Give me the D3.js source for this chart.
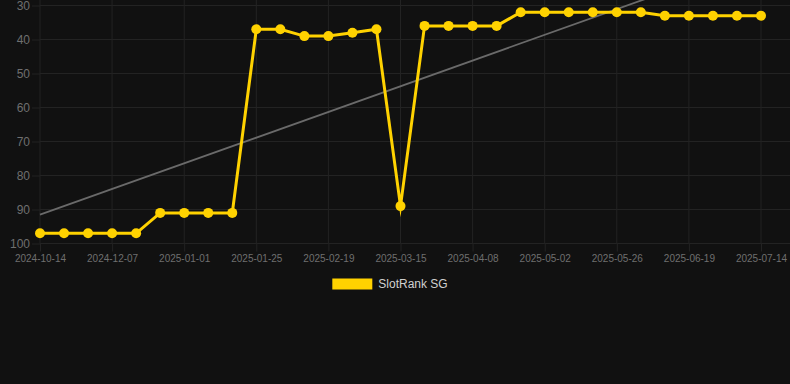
<!DOCTYPE html>
<html>
<head>
<meta charset="utf-8">
<script src="https://cdn.jsdelivr.net/npm/d3@7"></script>
<style>
  html, body { margin: 0; padding: 0; background: #111111; }
  svg { display: block; }
  text { font-family: Arial, "Liberation Sans", Helvetica, sans-serif; }
</style>
</head>
<body>
<svg id="chart" width="790" height="384"></svg>
<script>
const dates = [
  "2024-10-14","2024-10-31","2024-11-19","2024-12-07","2024-12-15","2024-12-23",
  "2025-01-01","2025-01-09","2025-01-17","2025-01-25","2025-02-02","2025-02-10",
  "2025-02-19","2025-02-27","2025-03-07","2025-03-15","2025-03-23","2025-03-31",
  "2025-04-08","2025-04-16","2025-04-24","2025-05-02","2025-05-10","2025-05-18",
  "2025-05-26","2025-06-03","2025-06-11","2025-06-19","2025-06-27","2025-07-05",
  "2025-07-14"
];
const ranks = [
  97, 97, 97, 97, 97, 91, 91, 91, 91, 37, 37, 39, 39, 38, 37, 89,
  36, 36, 36, 36, 32, 32, 32, 32, 32, 32, 33, 33, 33, 33, 33
];
const yTicks = [30, 40, 50, 60, 70, 80, 90, 100];
const xTickLabels = ["2024-10-14","2024-12-07","2025-01-01","2025-01-25","2025-02-19",
  "2025-03-15","2025-04-08","2025-05-02","2025-05-26","2025-06-19","2025-07-14"];
const seriesName = "SlotRank SG";

(function () {
const W = 790, H = 384;
const padL = 40, lastPtX = 761, padR = 790, padT = 5.5, padB = 243.5;
const gridColor = "#232323";
const tickColor = "#6f6f6f";
const gold = "#ffd200";

const svg = d3.select("#chart");
svg.append("rect").attr("width", W).attr("height", H).attr("fill", "#111111");

const x = d3.scalePoint().domain(dates).range([padL, lastPtX]);
const y = d3.scaleLinear().domain([30, 100]).range([padT, padB]);

// grid
svg.append("g").selectAll("line").data(yTicks).join("line")
  .attr("x1", padL).attr("x2", padR)
  .attr("y1", d => y(d)).attr("y2", d => y(d))
  .attr("stroke", gridColor).attr("stroke-width", 1);
svg.append("g").selectAll("line").data(xTickLabels).join("line")
  .attr("x1", d => x(d)).attr("x2", d => x(d))
  .attr("y1", 0).attr("y2", padB)
  .attr("stroke", gridColor).attr("stroke-width", 1);

// axes
const yAxis = svg.append("g").attr("transform", `translate(${padL},0)`)
  .call(d3.axisLeft(y).tickValues(yTicks).tickSizeInner(8).tickSizeOuter(0).tickPadding(2));
yAxis.select(".domain").remove();
yAxis.selectAll("line").attr("stroke", gridColor);
yAxis.selectAll("text").attr("fill", tickColor).attr("font-size", 12);

const xAxis = svg.append("g").attr("transform", `translate(0,${padB})`)
  .call(d3.axisBottom(x).tickValues(xTickLabels).tickSizeInner(8).tickSizeOuter(0).tickPadding(3));
xAxis.select(".domain").remove();
xAxis.selectAll("line").attr("stroke", gridColor);
xAxis.selectAll("text").attr("fill", tickColor).attr("font-size", 10);

// trend line (linear regression over index)
const n = ranks.length;
const mx = d3.mean(d3.range(n));
const my = d3.mean(ranks);
let sxy = 0, sxx = 0;
ranks.forEach((v, i) => { sxy += (i - mx) * (v - my); sxx += (i - mx) * (i - mx); });
const slope = sxy / sxx, intercept = my - slope * mx;
svg.append("line")
  .attr("x1", x(dates[0])).attr("y1", y(intercept))
  .attr("x2", x(dates[n - 1])).attr("y2", y(intercept + slope * (n - 1)))
  .attr("stroke", "#6a6a6a").attr("stroke-width", 1.8);

// series
const data = dates.map((d, i) => ({ d, v: ranks[i] }));
svg.append("path").datum(data)
  .attr("fill", "none").attr("stroke", gold).attr("stroke-width", 3)
  .attr("stroke-linejoin", "miter").attr("stroke-miterlimit", 10)
  .attr("d", d3.line().x(p => x(p.d)).y(p => y(p.v)));
svg.append("g").selectAll("circle").data(data).join("circle")
  .attr("cx", p => x(p.d)).attr("cy", p => y(p.v)).attr("r", 5)
  .attr("fill", gold);

// legend
const lg = svg.append("g");
const lt = lg.append("text").attr("fill", "#d0d0d0").attr("font-size", 12)
  .attr("dominant-baseline", "central").attr("y", 284).text(seriesName);
const tw = lt.node().getComputedTextLength();
const total = 40 + 6 + tw;
const lx = 390 - total / 2;
lg.insert("rect", "text").attr("x", lx).attr("y", 278.5).attr("width", 40).attr("height", 11)
  .attr("fill", gold);
lt.attr("x", lx + 46);
})();
</script>
</body>
</html>
